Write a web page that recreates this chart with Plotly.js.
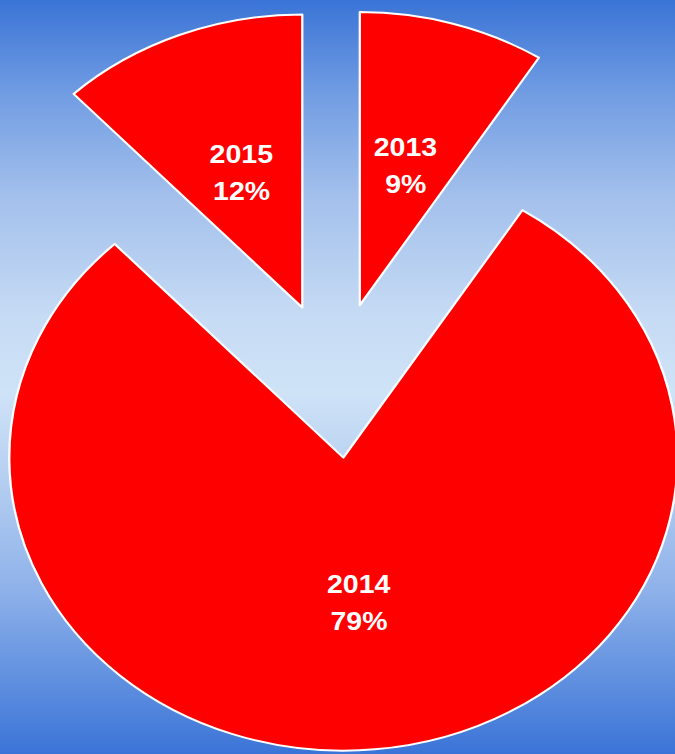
<!DOCTYPE html>
<html>
<head>
<meta charset="utf-8">
<script src="https://cdn.plot.ly/plotly-3.0.1.min.js"></script>
<style>
  html, body { margin: 0; padding: 0; }
  body {
    width: 675px; height: 754px; overflow: hidden; position: relative;
    background: linear-gradient(to bottom,
      #3a74d6 0%, #739ee3 13%, #a3c0ec 26%, #c6dbf4 42%, #cfe3f7 52%,
      #b4cef1 64%, #8fb2ea 78%, #6090df 90%, #3b74d8 100%);
  }
  #plot {
    position: absolute; left: -65px; top: 0;
    width: 800px; height: 754px;
    transform: scaleX(1.14); transform-origin: 400px 0;
  }
</style>
</head>
<body>
<div id="plot"></div>
<script>
// ---- data ----
const labels = ['2013', '2014', '2015'];
const values = [9, 79, 12];

// ---- layout constants ----
const W = 800, H = 754;
const domY = [3 / 754, 745 / 754];
const pull = 0.266;
const textFrac = 0.495;     // label distance from slice apex, fraction of radius
const lineGap = 18.5;       // half distance between the two text lines (px)

const total = values.reduce((a, b) => a + b, 0);

const trace = {
  type: 'pie',
  labels: labels,
  values: values,
  sort: false,
  direction: 'clockwise',
  rotation: 0,
  pull: values.map(() => pull),
  textinfo: 'none',
  hoverinfo: 'skip',
  showlegend: false,
  marker: { colors: values.map(() => '#ff0000'), line: { color: '#ffffff', width: 2 } },
  domain: { x: [0, 1], y: domY }
};

// text placement derived from data (slice mid angles)
const boxH = H * (domY[1] - domY[0]);
const r = boxH / 2 / (1 + pull);
const cx = W / 2;
const cyTop = H * (1 - (domY[0] + domY[1]) / 2);   // from top
const annotations = [];
let cum = 0;
values.forEach((v, i) => {
  const mid = 2 * Math.PI * (cum + v / 2) / total;
  cum += v;
  const d = pull * r + textFrac * r;
  const px = cx + d * Math.sin(mid);
  const pyTop = cyTop - d * Math.cos(mid);
  const x = px / W, y = 1 - pyTop / H;
  const pct = Math.round(v / total * 100) + '%';
  const font = { family: 'Liberation Sans, Arial, sans-serif', size: 25, color: '#ffffff', weight: 'bold' };
  annotations.push({ x: x, y: y, xref: 'paper', yref: 'paper', text: labels[i], showarrow: false,
    xanchor: 'center', yanchor: 'middle', yshift: lineGap, font: font });
  annotations.push({ x: x, y: y, xref: 'paper', yref: 'paper', text: pct, showarrow: false,
    xanchor: 'center', yanchor: 'middle', yshift: -lineGap, font: font });
});

const layout = {
  width: W, height: H,
  margin: { l: 0, r: 0, t: 0, b: 0, pad: 0 },
  paper_bgcolor: 'rgba(0,0,0,0)',
  plot_bgcolor: 'rgba(0,0,0,0)',
  showlegend: false,
  annotations: annotations
};

Plotly.newPlot('plot', [trace], layout, { displayModeBar: false, staticPlot: true });
</script>
</body>
</html>
